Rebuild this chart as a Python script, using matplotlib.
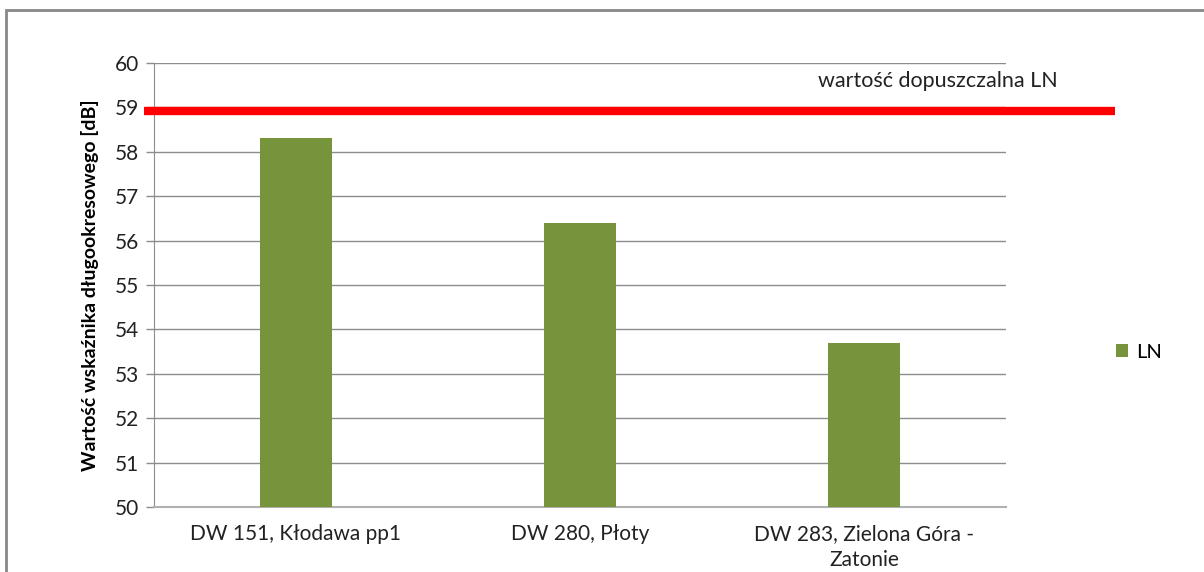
import matplotlib.pyplot as plt
from matplotlib.patches import Rectangle

plt.rcParams['font.family'] = ['Lato', 'DejaVu Sans']

# Dane pomiarowe
categories = ["DW 151, Kłodawa pp1", "DW 280, Płoty", "DW 283, Zielona Góra -\nZatonie"]
ln_values = [58.3, 56.4, 53.7]
limit_value = 58.92
limit_label = "wartość dopuszczalna LN"
series_name = "LN"
yticks = list(range(50, 61))

green = '#77933c'
grid_gray = '#8c8c8c'

fig = plt.figure(figsize=(12.04, 5.72), dpi=100)
ax = fig.add_axes([154 / 1204, 1 - 507 / 572, 852 / 1204, 444 / 572])

x = list(range(len(categories)))
ax.bar(x, ln_values, width=0.257, color=green, zorder=3, label=series_name)

ax.set_xlim(-0.5, len(categories) - 0.5)
ax.set_ylim(50, 60)
ax.set_yticks(yticks)
ax.set_xticks(x)
ax.set_xticklabels(categories, fontsize=15, color='#222222', linespacing=1.4)
ax.tick_params(axis='x', length=0, pad=12)
ax.tick_params(axis='y', length=6, width=1, color=grid_gray, labelsize=15,
               labelcolor='#222222', pad=5)

ax.yaxis.grid(True, color=grid_gray, linewidth=1, zorder=0)
for side in ['top', 'right']:
    ax.spines[side].set_visible(False)
ax.spines['left'].set_color(grid_gray)
ax.spines['bottom'].set_color('#b0b0b0')
ax.spines['bottom'].set_linewidth(1.5)

ax.set_ylabel("Wartość wskaźnika długookresowego [dB]", fontsize=14,
              fontweight='bold', labelpad=11)

# Linia wartości dopuszczalnej (wychodzi poza obszar wykresu)
xl = ax.get_xlim()
span = xl[1] - xl[0]
ax.plot([xl[0] - 10 / 852 * span, xl[0] + (1115 - 154) / 852 * span],
        [limit_value, limit_value], color='#ff0000', linewidth=6,
        solid_capstyle='butt', clip_on=False, zorder=4)
fig.text(938 / 1204, 1 - 81 / 572, limit_label, fontsize=15.5, ha='center',
         va='center', color='#222222')

# Legenda
fig.legend(handles=ax.containers[0][:1], labels=[series_name],
           loc='center left', bbox_to_anchor=(1098 / 1204, 1 - 352 / 572),
           frameon=False, fontsize=14.5, handlelength=0.6, handleheight=0.6,
           handletextpad=0.4)

# Ramka wykresu
fig.patches.append(Rectangle((6 / 1204, -0.1), 1.2, 1 - 10 / 572 + 0.1,
                             transform=fig.transFigure, fill=False,
                             edgecolor='#888888', linewidth=2))

fig.savefig("out.png", dpi=100)
